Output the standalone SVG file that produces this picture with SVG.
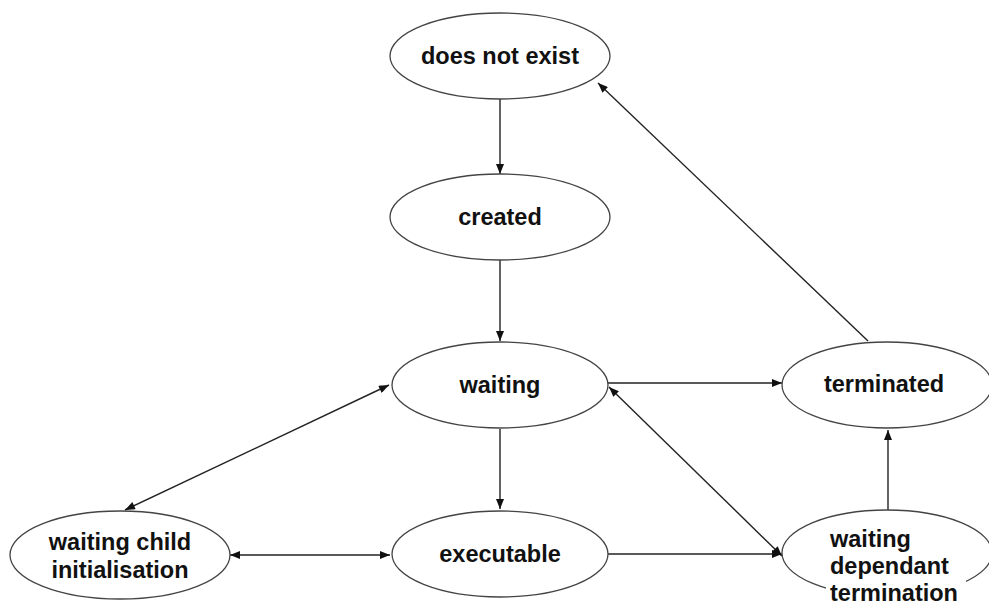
<svg xmlns="http://www.w3.org/2000/svg" width="989" height="605" viewBox="0 0 989 605">
<style>
.node ellipse{fill:#fff;stroke:#444;stroke-width:1.3}
text{font-family:"Liberation Sans",Arial,sans-serif;font-weight:bold;font-size:23.5px;fill:#111}
.c{text-anchor:middle}
.edge{stroke:#222;stroke-width:1.4;fill:none;marker-end:url(#ah)}
.bi{marker-start:url(#ah)}
</style>
<defs>
<marker id="ah" viewBox="0 0 10 8" refX="10" refY="4" markerWidth="11" markerHeight="8" markerUnits="userSpaceOnUse" orient="auto-start-reverse">
<path d="M0,0 L10,4 L0,8 z" fill="#111"/>
</marker>
</defs>
<rect width="989" height="605" fill="#fff"/>
<g id="connectors">
<line class="edge" x1="500" y1="99" x2="500" y2="174"/>
<line class="edge" x1="500" y1="260" x2="500" y2="341"/>
<line class="edge" x1="500" y1="429" x2="500" y2="509"/>
<line class="edge bi" x1="125" y1="510" x2="389" y2="385"/>
<line class="edge bi" x1="230" y1="555" x2="390" y2="555"/>
<line class="edge" x1="608" y1="383" x2="782" y2="383"/>
<line class="edge bi" x1="609" y1="387" x2="782" y2="556"/>
<line class="edge" x1="608" y1="554" x2="782" y2="554"/>
<line class="edge" x1="888" y1="510" x2="888" y2="430"/>
<line class="edge" x1="868" y1="341" x2="598" y2="83"/>
</g>
<g id="n-does-not-exist" class="node">
<ellipse cx="500" cy="56" rx="110" ry="43"/>
<text class="c" x="500" y="64">does not exist</text>
</g>
<g id="n-created" class="node">
<ellipse cx="500" cy="217" rx="110" ry="43"/>
<text class="c" x="500" y="225">created</text>
</g>
<g id="n-waiting" class="node">
<ellipse cx="500" cy="385" rx="108" ry="43"/>
<text class="c" x="500" y="393">waiting</text>
</g>
<g id="n-terminated" class="node">
<ellipse cx="887" cy="385" rx="105" ry="43"/>
<text class="c" x="884" y="392">terminated</text>
</g>
<g id="n-waiting-child" class="node">
<ellipse cx="120" cy="555" rx="110" ry="44"/>
<text class="c" x="120" y="550">waiting child</text>
<text class="c" x="120" y="578">initialisation</text>
</g>
<g id="n-executable" class="node">
<ellipse cx="500" cy="554" rx="108" ry="43"/>
<text class="c" x="500" y="562">executable</text>
</g>
<g id="n-waiting-dependant" class="node">
<ellipse cx="887" cy="553" rx="105" ry="43"/>
<rect x="826" y="527" width="140" height="80" fill="#fff"/>
<text x="830" y="547">waiting</text>
<text x="830" y="574">dependant</text>
<text x="830" y="601">termination</text>
</g>
</svg>
